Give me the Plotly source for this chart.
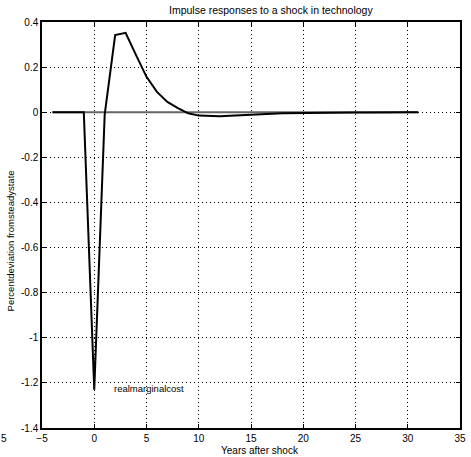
import plotly.graph_objects as go

years = list(range(-4, 32))
real_marginal_cost = [0, 0, 0, 0, -1.23, -0.01, 0.342, 0.352, 0.253, 0.157, 0.09, 0.046, 0.018,
                      -0.005, -0.015, -0.018, -0.018, -0.016, -0.013, -0.011, -0.009, -0.007,
                      -0.005, -0.004, -0.003, -0.002, -0.002, -0.001, -0.001, -0.001, -0.001,
                      0, 0, 0, 0, 0]
steady_state = [0] * len(years)

x_ticks = [-5, 0, 5, 10, 15, 20, 25, 30, 35]
y_ticks = [0.4, 0.2, 0, -0.2, -0.4, -0.6, -0.8, -1, -1.2, -1.4]
y_tick_text = ["0.4", "0.2", "0", "-0.2", "-0.4", "-0.6", "-0.8", "-1", "-1.2", "-1.4"]

W, H = 471, 457
L, R, T, B = 42, 5, 22, 29
font = "Liberation Sans, Arial, sans-serif"

fig = go.Figure()
fig.add_trace(go.Scatter(x=years, y=steady_state, mode="lines",
                         line=dict(color="#666666", width=2), hoverinfo="skip"))
fig.add_trace(go.Scatter(x=years, y=real_marginal_cost, mode="lines",
                         line=dict(color="black", width=2)))

axis_common = dict(showgrid=True, gridcolor="black", griddash="1px,3px", gridwidth=1,
                   showline=True, linecolor="black", linewidth=1.5, mirror="ticks",
                   ticks="inside", ticklen=4, tickcolor="black", zeroline=False,
                   tickfont=dict(family=font, size=10, color="black"))

fig.update_xaxes(range=[-5, 35], tickvals=x_ticks, **axis_common)
fig.update_yaxes(range=[-1.4, 0.4], tickvals=y_ticks, ticktext=y_tick_text, **axis_common)

def px_x(p):
    return (p - L) / (W - L - R)

def px_y(p):
    return 1 - (p - T) / (H - T - B)

fig.update_layout(
    width=W, height=H, margin=dict(l=L, r=R, t=T, b=B),
    paper_bgcolor="white", plot_bgcolor="white", showlegend=False,
    annotations=[
        dict(text="Impulse responses to a shock in technology", xref="paper", yref="paper",
             x=px_x(274), y=px_y(10), showarrow=False, xanchor="center", yanchor="middle",
             font=dict(family=font, size=10.5, color="black")),
        dict(text="Years after shock", xref="paper", yref="paper",
             x=px_x(263), y=px_y(450), showarrow=False, xanchor="center", yanchor="middle",
             font=dict(family=font, size=10, color="black")),
        dict(text="Percentdeviation fromsteadystate", xref="paper", yref="paper",
             x=px_x(11), y=px_y(241), showarrow=False, textangle=-90,
             xanchor="center", yanchor="middle",
             font=dict(family=font, size=9.5, color="black")),
        dict(text="realmarginalcost", xref="x", yref="y", x=1.7, y=-1.193,
             showarrow=False, xanchor="left", yanchor="top",
             font=dict(family=font, size=9.5, color="black")),
        dict(text="5", xref="paper", yref="paper", x=px_x(3), y=px_y(438),
             showarrow=False, xanchor="center", yanchor="middle",
             font=dict(family=font, size=10, color="black")),
    ],
)

fig.write_html("out.html")
